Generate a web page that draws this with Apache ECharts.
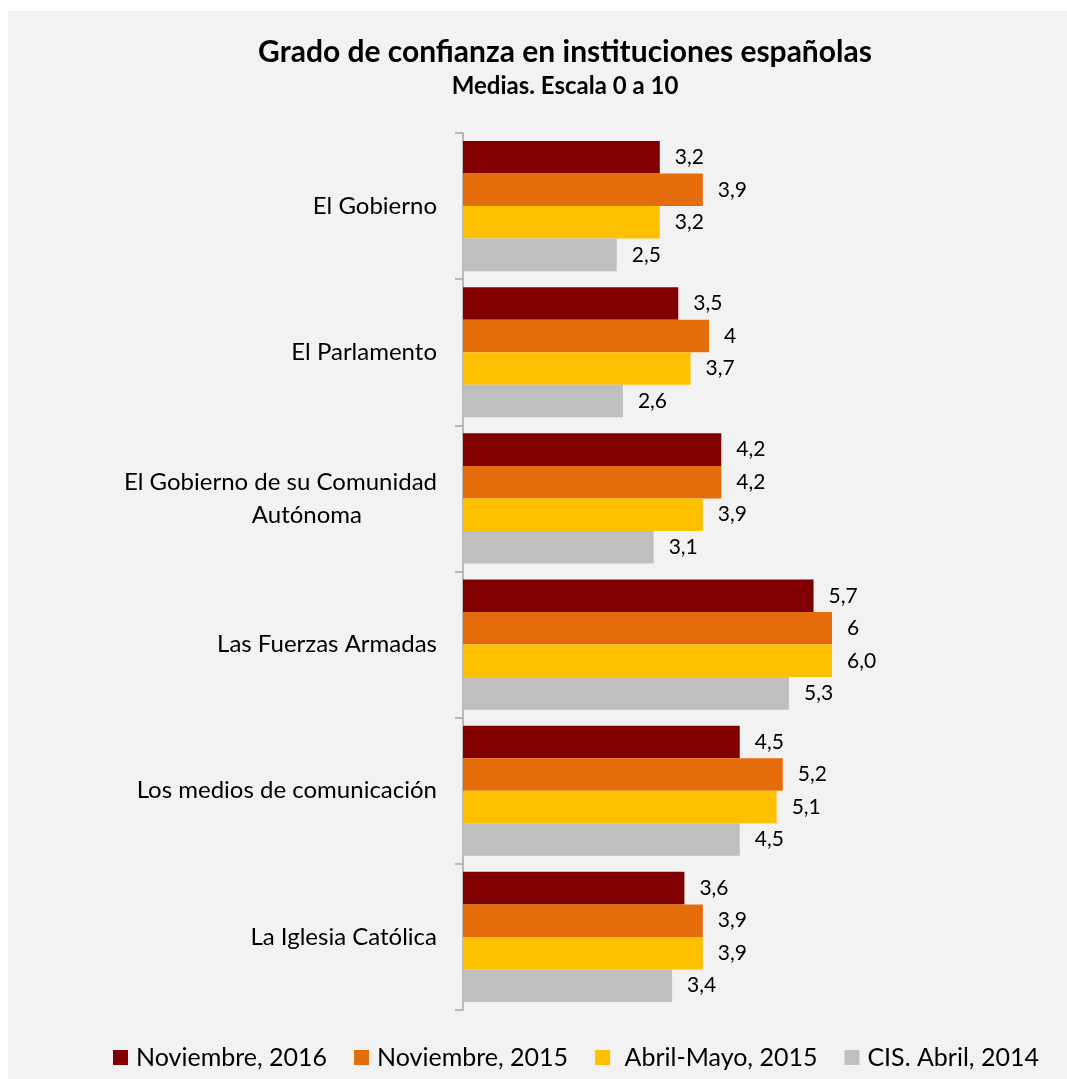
<!DOCTYPE html>
<html>
<head>
<meta charset="utf-8">
<script src="https://cdn.jsdelivr.net/npm/echarts@6/dist/echarts.min.js"></script>
<style>
  html, body { margin: 0; padding: 0; background: #ffffff; }
  #chart { position: absolute; left: 8px; top: 11px; width: 1059px; height: 1068px; background: #f2f2f2; }
</style>
</head>
<body>
<div id="chart"></div>
<script>
const categories = [
  "El Gobierno",
  "El Parlamento",
  "El Gobierno de su Comunidad\nAutónoma",
  "Las Fuerzas Armadas",
  "Los medios de comunicación",
  "La Iglesia Católica"
];
const seriesNames = ["Noviembre, 2016", "Noviembre, 2015", " Abril-Mayo, 2015", "CIS. Abril, 2014"];
const nov2016 = [3.2, 3.5, 4.2, 5.7, 4.5, 3.6];
const nov2015 = [3.9, 4, 4.2, 6, 5.2, 3.9];
const abrMay2015 = [3.2, 3.7, 3.9, 6.0, 5.1, 3.9];
const cis2014 = [2.5, 2.6, 3.1, 5.3, 4.5, 3.4];
// Noviembre 2015 uses general number format, the rest one decimal
const labelDecimals = [1, null, 1, 1];

const colors = ["#800000", "#e46c0a", "#ffc000", "#bfbfbf"];
const font = "Lato";

let chart = echarts.init(document.getElementById("chart"));

function fmt(v, d) {
  let s = d == null ? String(v) : v.toFixed(d);
  return s.replace(".", ",");
}

const allData = [nov2016, nov2015, abrMay2015, cis2014];

chart.setOption({
  animation: false,
  textStyle: { fontFamily: font },
  title: {
    text: "Grado de confianza en instituciones españolas",
    subtext: "Medias. Escala 0 a 10",
    left: 552,
    top: 21,
    textAlign: "center",
    itemGap: 7,
    textStyle: { fontFamily: font, fontSize: 30, fontWeight: "bold", color: "#000" },
    subtextStyle: { fontFamily: font, fontSize: 24, fontWeight: "bold", color: "#000" }
  },
  legend: {
    data: seriesNames,
    left: 100,
    bottom: 4,
    icon: "rect",
    itemWidth: 15,
    itemHeight: 15,
    itemGap: 27,
    textStyle: { fontFamily: font, fontSize: 25, color: "#000", padding: [0, 0, 0, 3] }
  },
  grid: {
    left: 455,
    top: 122,
    bottom: 69,
    right: 173.5
  },
  xAxis: {
    type: "value",
    min: 0,
    max: 7,
    show: false
  },
  yAxis: {
    type: "category",
    data: categories,
    inverse: true,
    axisLine: { show: true, lineStyle: { color: "#a6a6a6", width: 1.5 } },
    axisTick: { show: true, length: 8, lineStyle: { color: "#a6a6a6", width: 1.5 } },
    axisLabel: {
      margin: 26,
      fontFamily: font,
      fontSize: 24,
      color: "#000",
      lineHeight: 33,
      formatter: function(value) {
        const parts = value.split("\n");
        if (parts.length > 1) {
          return parts[0] + "\n{b|" + parts[1] + "}";
        }
        return value;
      },
      rich: {
        b: { fontFamily: font, fontSize: 24, color: "#000", lineHeight: 33, padding: [0, 75, 0, 0] }
      }
    }
  },
  series: allData.map((data, i) => ({
    name: seriesNames[i],
    type: "bar",
    data: data,
    barGap: "0%",
    barCategoryGap: "11%",
    itemStyle: { color: colors[i] },
    label: {
      show: true,
      position: "right",
      distance: 15,
      fontFamily: font,
      fontSize: 21,
      color: "#000",
      formatter: p => fmt(p.value, labelDecimals[i])
    }
  }))
});
</script>
</body>
</html>
